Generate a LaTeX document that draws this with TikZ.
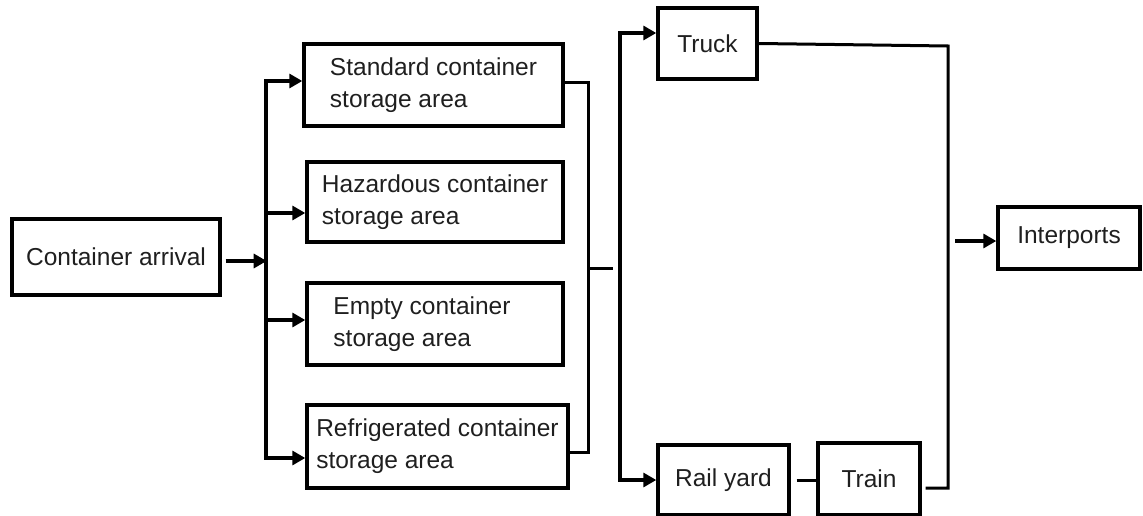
\documentclass[tikz,border=0pt]{standalone}
\usepackage{fontspec}
\setmainfont{Liberation Sans}
\usetikzlibrary{arrows.meta}
\begin{document}
\begin{tikzpicture}[x=1pt,y=-1pt,
  box/.style={draw, line width=3.4pt, inner sep=0pt, align=left, text=black!88,
    font=\fontsize{24.5pt}{32pt}\selectfont},
  conn/.style={line width=3.2pt, line join=miter},
  thinconn/.style={line width=3.0pt, line join=miter},
  arr/.style={conn, -{Triangle[length=13pt,width=14pt]}},
  arrtwo/.style={conn, {Triangle[length=13pt,width=14pt]}-{Triangle[length=13pt,width=14pt]}}]
\useasboundingbox (0,0) rectangle (1143,516);

\node[box, minimum width=208pt, minimum height=76pt] (ca) at (116,257) {Container arrival};
\node[box, minimum width=259pt, minimum height=82pt] (std) at (433.5,85) {Standard container\\storage area};
\node[box, minimum width=256pt, minimum height=80pt] (haz) at (435,202) {Hazardous container\\storage area};
\node[box, minimum width=256pt, minimum height=82pt] (emp) at (435,324) {Empty container\hspace*{26pt}\\storage area};
\node[box, minimum width=261pt, minimum height=83pt] (ref) at (437.5,446.5) {Refrigerated container\\storage area};
\node[box, minimum width=99pt, minimum height=71pt] (truck) at (707.5,43.5) {Truck};
\node[box, minimum width=131pt, minimum height=70pt] (rail) at (723.5,480) {Rail yard};
\node[box, minimum width=102pt, minimum height=72pt] (train) at (869,479) {Train};
\node[box, minimum width=142pt, minimum height=62pt] (inter) at (1069,238) {Interports};

% arrival to first bus
\draw[arr] ([xshift=4pt,yshift=-4pt]ca.east) -- ++(41,0);

% first bus
\coordinate (bLt) at (266,81);
\coordinate (bLb) at (266,458);
\coordinate (hA) at (266,213);
\coordinate (eA) at (266,320);
\draw[arrtwo] (std.west |- bLt) -- (bLt) -- (bLb) -- (ref.west |- bLb);
\draw[arr] (hA) -- (haz.west |- hA);
\draw[arr] (eA) -- (emp.west |- eA);

% collector
\coordinate (cR) at (588,83);
\coordinate (cRb) at (588,452);
\coordinate (cRm) at (588,268);
\coordinate (hub) at (613,268);
\draw[thinconn] (std.east |- cR) -- (cR) -- (cRb) -- (ref.east |- cRb);
\draw[thinconn] (cRm) -- (hub);

% second bus
\coordinate (b2t) at (620,33);
\coordinate (b2b) at (620,480);
\draw[arrtwo] (truck.west |- b2t) -- (b2t) -- (b2b) -- (rail.west |- b2b);

% rail yard to train
\draw[thinconn] ([xshift=6pt]rail.east) -- (train.west |- rail.east);

% truck / train to interports
\coordinate (rt) at (948,46);
\coordinate (rb) at (948,488);
\draw[thinconn] (truck.east) -- (rt) -- (rb) -- ([xshift=4pt]train.east |- rb);
\coordinate (iA) at (955,241);
\draw[arr] (iA) -- (inter.west |- iA);
\end{tikzpicture}
\end{document}
